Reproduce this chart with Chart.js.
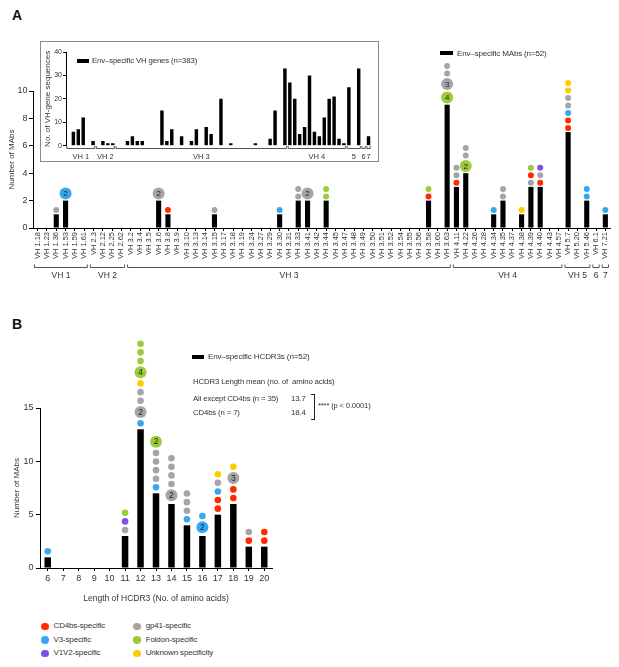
<!DOCTYPE html>
<html>
<head>
<meta charset="utf-8">
<script src="https://cdn.jsdelivr.net/npm/chart.js@4.4.1/dist/chart.umd.min.js"></script>
<style>
body{margin:0;background:#fff;font-family:Arial,"Liberation Sans",Helvetica,sans-serif;color:#333}
#wrap{position:relative;width:619px;height:667px;overflow:hidden;background:#fff}
canvas,.t,.rect,.dot{position:absolute}
.t{white-space:nowrap;line-height:1;letter-spacing:-0.15px}
.rect{background:#000}
.dot{border-radius:50%}
#inset{position:absolute;left:40px;top:41px;width:339px;height:121px;box-sizing:border-box;border:1px solid #8a8a8a;background:#fff}
</style>
</head>
<body>
<div id="wrap">
	<div class="t" style="left:12px;top:8px;font-size:14px;font-weight:bold;color:#111">A</div>
	<canvas id="chartA" width="619" height="300" style="left:0;top:0"></canvas>

	<div id="inset">
		<canvas id="chartInset" width="337" height="119" style="left:0;top:0"></canvas>
		<div class="rect" style="left:36px;top:17px;width:12px;height:4px"></div>
		<div class="t" style="left:51px;top:15px;font-size:7.8px">Env–specific VH genes (n=383)</div>
	</div>

	<div class="rect" style="left:440px;top:51px;width:13px;height:4px"></div>
	<div class="t" style="left:457px;top:49.5px;font-size:8px">Env–specific MAbs (n=52)</div>

	<div class="t" style="left:12px;top:317px;font-size:14px;font-weight:bold;color:#111">B</div>
	<canvas id="chartB" width="290" height="308" style="left:0;top:300px"></canvas>

	<div class="rect" style="left:192px;top:355px;width:12px;height:4px"></div>
	<div class="t" style="left:208px;top:352.8px;font-size:8.1px">Env–specific HCDR3s (n=52)</div>
	<div class="t" style="left:193px;top:377.6px;font-size:7.8px">HCDR3 Length mean (no. of&nbsp; amino acids)</div>
	<div class="t" style="left:193px;top:395.2px;font-size:7.8px">All except CD4bs (n = 35)</div>
	<div class="t" style="left:291px;top:395.2px;font-size:7.8px">13.7</div>
	<div class="t" style="left:193px;top:409.2px;font-size:7.8px">CD4bs (n = 7)</div>
	<div class="t" style="left:291px;top:409.2px;font-size:7.8px">18.4</div>
	<div style="position:absolute;left:311px;top:394px;width:3px;height:24px;border:1px solid #222;border-left:none"></div>
	<div class="t" style="left:318px;top:401.8px;font-size:7.6px">**** (p &lt; 0.0001)</div>

	<div id="legend"></div>
</div>

<script>
"use strict";

// categories shared by panel A and its inset
var vhGenes = [
	'VH 1.18','VH 1.23','VH 1.36','VH 1.53','VH 1.59','VH 1.61',
	'VH 2.3','VH 2.12','VH 2.25','VH 2.62',
	'VH 3.2','VH 3.4','VH 3.5','VH 3.6','VH 3.8','VH 3.9','VH 3.10','VH 3.13','VH 3.14','VH 3.15',
	'VH 3.17','VH 3.18','VH 3.19','VH 3.24','VH 3.27','VH 3.29','VH 3.30','VH 3.31','VH 3.33','VH 3.41',
	'VH 3.42','VH 3.44','VH 3.45','VH 3.47','VH 3.48','VH 3.49','VH 3.50','VH 3.51','VH 3.52','VH 3.54',
	'VH 3.55','VH 3.56','VH 3.58','VH 3.60','VH 3.63',
	'VH 4.11','VH 4.22','VH 4.26','VH 4.28','VH 4.34','VH 4.35','VH 4.37','VH 4.38','VH 4.39','VH 4.40','VH 4.43','VH 4.57',
	'VH 5.7','VH 5.20','VH 5.46',
	'VH 6.1',
	'VH 7.21'
];
var vhFamilies = ['VH 1','VH 2','VH 3','VH 4','VH 5','6','7'];
var vhFamilySizes = [6, 4, 35, 12, 3, 1, 1];
var insetFamilies = ['VH 1','VH 2','VH 3','VH 4','5','6','7'];

// Env-specific MAbs per VH gene (n=52)
var mabCounts = [
	0,0,1,2,0,0,
	0,0,0,0,
	0,0,0,2,1,0,0,0,0,1,
	0,0,0,0,0,0,1,0,2,2,
	0,2,0,0,0,0,0,0,0,0,
	0,0,2,0,9,
	3,4,0,0,1,2,0,1,3,3,0,0,
	7,0,2,
	0,
	1
];

// Env-specific VH gene sequences (n=383), inset
var vhSeqCounts = [
	0,6,7,12,0,2,
	0,2,1,1,
	0,0,2,4,2,2,0,0,0,15,
	2,7,0,4,0,2,7,0,8,5,
	0,20,0,1,0,0,0,0,1,0,
	0,3,15,0,33,
	27,20,5,8,30,6,4,12,20,21,3,1,
	25,0,33,
	0,
	4
];

// specificity of each MAb, bottom to top; a number = clonal group of that size
// C CD4bs, V V3, P V1V2, G gp41, F Foldon, U Unknown
var mabStacks = {
	'VH 1.36': ['G'],
	'VH 1.53': ['V2'],
	'VH 3.6': ['G2'],
	'VH 3.8': ['C'],
	'VH 3.15': ['G'],
	'VH 3.30': ['V'],
	'VH 3.33': ['G','G'],
	'VH 3.41': ['G2'],
	'VH 3.44': ['F','F'],
	'VH 3.58': ['C','F'],
	'VH 3.63': ['F4','G3','G','G'],
	'VH 4.11': ['C','G','G'],
	'VH 4.22': ['F2','G','G'],
	'VH 4.34': ['V'],
	'VH 4.35': ['G','G'],
	'VH 4.38': ['U'],
	'VH 4.39': ['G','C','F'],
	'VH 4.40': ['C','G','P'],
	'VH 5.7': ['C','C','V','G','G','U','U'],
	'VH 5.46': ['V','V'],
	'VH 7.21': ['V']
};

// panel B
var cdr3Lengths = ['6','7','8','9','10','11','12','13','14','15','16','17','18','19','20'];
var cdr3Counts = [1,0,0,0,0,3,13,7,6,4,3,5,6,2,2];
var cdr3Stacks = {
	'6': ['V'],
	'11': ['G','P','F'],
	'12': ['V','G2','G','G','U','F4','F','F','F'],
	'13': ['V','G','G','G','G','F2'],
	'14': ['G2','G','G','G','G'],
	'15': ['V','G','G','G'],
	'16': ['V2','V'],
	'17': ['C','C','V','G','U'],
	'18': ['C','C','G3','U'],
	'19': ['C','G'],
	'20': ['C','C']
};

var specCodes = ['C','V','P','G','F','U'];
var specNames = ['CD4bs-specific','V3-specific','V1V2-specific','gp41-specific','Foldon-specific','Unknown specificity'];
var specColors = { C: '#FF2B00', V: '#36A8F2', P: '#7B52E6', G: '#A5A5A5', F: '#9CCB3B', U: '#FFCC00' };

var FONT = 'Arial, "Liberation Sans", Helvetica, sans-serif';
Chart.defaults.font.family = FONT;
Chart.defaults.color = '#333';

function dotsPlugin(stacks, counts, sty) {
	return {
		id: 'dots',
		afterDatasetsDraw: function (chart) {
			var xs = chart.scales.x, ys = chart.scales.y, ctx = chart.ctx;
			ctx.save();
			ctx.textAlign = 'center';
			ctx.textBaseline = 'middle';
			ctx.font = sty.fontSize + 'px ' + FONT;
			Object.keys(stacks).forEach(function (key) {
				var i = chart.data.labels.indexOf(key);
				var cx = xs.getPixelForValue(i);
				var cursor = ys.getPixelForValue(counts[i]) - sty.firstGap;
				stacks[key].forEach(function (code) {
					var n = parseInt(code.slice(1), 10) || 1;
					var r = n > 1 ? sty.bigR : sty.smallR;
					var cy = cursor - r;
					ctx.beginPath();
					ctx.arc(cx, cy, r, 0, Math.PI * 2);
					ctx.fillStyle = specColors[code[0]];
					ctx.fill();
					if (n > 1) {
						ctx.fillStyle = '#222';
						ctx.fillText(String(n), cx, cy + 0.5);
					}
					cursor = cy - r - sty.gap;
				});
			});
			ctx.restore();
		}
	};
}

function bracketPlugin(names, sizes, sty) {
	return {
		id: 'brackets',
		afterDraw: function (chart) {
			var xs = chart.scales.x, ctx = chart.ctx, bottom = chart.chartArea.bottom;
			var step = xs.getPixelForValue(1) - xs.getPixelForValue(0);
			var start = 0;
			var y = Math.round(bottom + sty.lineDy) + 0.5;
			ctx.save();
			ctx.strokeStyle = '#555';
			ctx.lineWidth = 1;
			ctx.fillStyle = '#333';
			ctx.font = sty.fontSize + 'px ' + FONT;
			ctx.textAlign = 'center';
			ctx.textBaseline = 'middle';
			names.forEach(function (name, k) {
				var end = start + sizes[k] - 1;
				var x1 = xs.getPixelForValue(start) - step / 2 + sty.inset;
				var x2 = xs.getPixelForValue(end) + step / 2 - sty.inset;
				ctx.beginPath();
				ctx.moveTo(x1, y - sty.tickH);
				ctx.lineTo(x1, y);
				ctx.lineTo(x2, y);
				ctx.lineTo(x2, y - sty.tickH);
				ctx.stroke();
				ctx.fillText(name, (x1 + x2) / 2, bottom + sty.labelDy);
				start = end + 1;
			});
			ctx.restore();
		}
	};
}

var noPlugins = { legend: { display: false }, tooltip: { enabled: false } };

// Panel A main chart
new Chart('chartA', {
	type: 'bar',
	data: {
		labels: vhGenes,
		datasets: [{ data: mabCounts, backgroundColor: '#000', barPercentage: 0.55, categoryPercentage: 1 }]
	},
	options: {
		responsive: false,
		animation: false,
		devicePixelRatio: 1,
		layout: { padding: { top: 91, right: 9, left: 0, bottom: 0 } },
		plugins: noPlugins,
		scales: {
			x: {
				grid: { display: true, offset: false, drawOnChartArea: false, tickLength: 3, color: '#000' },
				border: { color: '#000' },
				ticks: { autoSkip: false, minRotation: 90, maxRotation: 90, font: { size: 7.5 }, color: '#333', padding: 1 },
				afterFit: function (s) { s.height = 72; }
			},
			y: {
				min: 0, max: 10,
				ticks: { stepSize: 2, font: { size: 9 }, color: '#333', padding: 1.5 },
				grid: { drawOnChartArea: false, tickLength: 4, color: '#000' },
				border: { color: '#000' },
				title: { display: true, text: 'Number of MAbs', font: { size: 8 }, color: '#333', padding: { top: 7, bottom: 0 } },
				afterFit: function (s) { s.width = 33; }
			}
		}
	},
	plugins: [
		dotsPlugin(mabStacks, mabCounts, { smallR: 3, bigR: 6, gap: 1.5, firstGap: 1.2, fontSize: 8 }),
		bracketPlugin(vhFamilies, vhFamilySizes, { lineDy: 39, labelDy: 48, tickH: 3, inset: 1.5, fontSize: 8.5 })
	]
});

// Panel A inset
new Chart('chartInset', {
	type: 'bar',
	data: {
		labels: vhGenes,
		datasets: [{ data: vhSeqCounts, backgroundColor: '#000', barPercentage: 0.7, categoryPercentage: 1 }]
	},
	options: {
		responsive: false,
		animation: false,
		devicePixelRatio: 1,
		layout: { padding: { top: 10, right: 7, left: 0, bottom: 15.3 } },
		plugins: noPlugins,
		scales: {
			x: { display: false },
			y: {
				min: 0, max: 40,
				ticks: { stepSize: 10, font: { size: 7 }, color: '#333', padding: 1 },
				grid: { drawOnChartArea: false, tickLength: 3, color: '#000' },
				border: { color: '#000' },
				title: { display: true, text: 'No. of VH-gene sequences', font: { size: 8 }, color: '#333', padding: { top: 2, bottom: 0 } },
				afterFit: function (s) { s.width = 25; }
			}
		}
	},
	plugins: [
		bracketPlugin(insetFamilies, vhFamilySizes, { lineDy: 2.5, labelDy: 11, tickH: 2.5, inset: 0.8, fontSize: 7.5 })
	]
});

// Panel B
new Chart('chartB', {
	type: 'bar',
	data: {
		labels: cdr3Lengths,
		datasets: [{ data: cdr3Counts, backgroundColor: '#000', barPercentage: 0.42, categoryPercentage: 1 }]
	},
	options: {
		responsive: false,
		animation: false,
		devicePixelRatio: 1,
		layout: { padding: { top: 108, right: 18, left: 0, bottom: 0 } },
		plugins: noPlugins,
		scales: {
			x: {
				grid: { display: true, offset: false, drawOnChartArea: false, tickLength: 3, color: '#000' },
				border: { color: '#000' },
				ticks: { autoSkip: false, maxRotation: 0, minRotation: 0, font: { size: 9 }, color: '#333', padding: 2 },
				title: { display: true, text: 'Length of HCDR3 (No. of amino acids)', font: { size: 8.5 }, color: '#333', padding: { top: 0, bottom: 4 } },
				afterFit: function (s) { s.height = 40; }
			},
			y: {
				min: 0, max: 15,
				ticks: { stepSize: 5, font: { size: 9 }, color: '#333', padding: 2.5 },
				grid: { drawOnChartArea: false, tickLength: 4, color: '#000' },
				border: { color: '#000' },
				title: { display: true, text: 'Number of MAbs', font: { size: 8 }, color: '#333', padding: { top: 12, bottom: 0 } },
				afterFit: function (s) { s.width = 40; }
			}
		}
	},
	plugins: [
		dotsPlugin(cdr3Stacks, cdr3Counts, { smallR: 3.3, bigR: 6, gap: 2, firstGap: 2.7, fontSize: 8.5 })
	]
});

// specificity legend
var legendHtml = '';
specCodes.forEach(function (code, k) {
	var col = k < 3 ? 0 : 1;
	var row = k % 3;
	var cy = 626.7 + row * 13.3;
	var dx = col ? 137 : 45;
	var tx = col ? 145.7 : 53.5;
	legendHtml += '<span class="dot" style="left:' + (dx - 3.7) + 'px;top:' + (cy - 3.7) + 'px;width:7.4px;height:7.4px;background:' + specColors[code] + '"></span>';
	legendHtml += '<div class="t" style="left:' + tx + 'px;top:' + (cy - 4.3) + 'px;font-size:8px">' + specNames[k] + '</div>';
});
document.getElementById('legend').innerHTML = legendHtml;
</script>
</body>
</html>
